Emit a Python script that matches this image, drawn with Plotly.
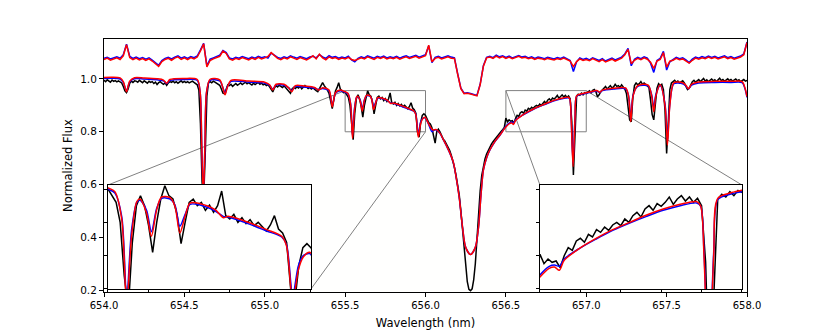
import numpy as np
import plotly.graph_objects as go

# observed spectrum, flux x1000, sampled every 0.01 nm from 654.00 nm
obs_start, obs_step = 654.0, 0.01
obs_flux = [
    995, 990, 997, 992, 988, 996, 991, 994, 989, 993,
    990, 985, 972, 955, 948, 962, 984, 992, 987, 993,
    992, 988, 995, 990, 986, 993, 989, 984, 991, 987,
    990, 983, 988, 979, 986, 990, 984, 980, 985, 976,
    985, 990, 987, 992, 986, 990, 984, 989, 993, 987,
    991, 986, 990, 985, 989, 992, 987, 984, 978, 958,
    830, 610, 545, 720, 935, 986, 990, 986, 992, 988,
    985, 980, 976, 962, 946, 944, 960, 978, 975, 980,
    972, 978, 983, 976, 980, 985, 979, 983, 988, 982,
    986, 981, 977, 984, 979, 983, 987, 980, 984, 978,
    981, 975, 979, 970, 958, 951, 966, 975, 970, 976,
    972, 968, 974, 966, 958, 950, 946, 962, 968, 964,
    970, 966, 972, 963, 968, 975, 970, 964, 968, 962,
    966, 960, 956, 952, 963, 972, 986, 975, 968, 958,
    945, 910, 888, 922, 955, 968, 986, 962, 955, 948,
    950, 940, 930, 900, 820, 770, 870, 925, 940, 925,
    895, 855, 900, 935, 955, 940, 935, 912, 868, 900,
    930, 935, 925, 930, 918, 926, 915, 925, 947, 910,
    905, 912, 900, 907, 898, 904, 895, 900, 893, 887,
    896, 910, 890, 884, 870, 800, 780, 835, 862, 868,
    862, 850, 835, 830, 815, 785, 757, 800, 810, 800,
    785, 772, 765, 754, 742, 730, 712, 690, 665, 635,
    600, 560, 500, 425, 350, 280, 232, 203, 198, 205,
    240, 300, 400, 500, 575, 635, 672, 697, 716, 730,
    740, 753, 762, 770, 781, 786, 794, 801, 808, 816,
    852, 838, 845, 840, 842, 832, 850, 862, 858, 872,
    876, 870, 882, 878, 889, 885, 893, 888, 896, 900,
    895, 905, 900, 910, 915, 908, 920, 925, 918, 928,
    924, 930, 938, 927, 935, 940, 932, 938, 930, 936,
    925, 840, 636, 800, 935, 942, 938, 946, 940, 948,
    945, 950, 955, 948, 957, 960, 952, 933, 940, 952,
    958, 965, 972, 962, 968, 975, 966, 970, 980, 972,
    975, 968, 978, 970, 962, 945, 900, 845, 838, 930,
    975, 985, 978, 982, 990, 980, 985, 978, 975, 968,
    920, 865, 845, 905, 965, 982, 975, 980, 960, 880,
    718, 830, 960, 985, 990, 995, 988, 992, 985, 990,
    993, 985, 975, 960, 965, 980, 990, 995, 988, 993,
    998, 990, 995, 1002, 992, 997, 990, 995, 1000, 993,
    997, 990, 996, 1003, 994, 998, 991, 997, 1001, 994,
    998, 992, 996, 1000, 993, 997, 990, 995, 998, 992,
    995,
]

# model fits
mod_wl = [654.00, 654.05, 654.10, 654.12, 654.14, 654.16, 654.19, 654.25, 654.33, 654.37,
          654.39, 654.41, 654.50, 654.58, 654.598, 654.608, 654.618, 654.628, 654.638, 654.66,
          654.72, 654.74, 654.753, 654.767, 654.79, 654.90, 655.00, 655.03, 655.05, 655.07,
          655.12, 655.15, 655.168, 655.19, 655.25, 655.31, 655.334, 655.36, 655.40, 655.42,
          655.44, 655.47, 655.503, 655.517, 655.534, 655.546, 655.558, 655.571, 655.579, 655.595,
          655.607, 655.620, 655.632, 655.653, 655.665, 655.677, 655.690, 655.702, 655.727, 655.764,
          655.784, 655.796, 655.850, 655.891, 655.928, 655.940, 655.955, 655.969, 655.981, 655.997,
          656.018, 656.040, 656.050, 656.065, 656.090, 656.110, 656.130, 656.150, 656.173, 656.190,
          656.210, 656.230, 656.250, 656.280, 656.310, 656.330, 656.345, 656.360, 656.380, 656.400,
          656.430, 656.463, 656.500, 656.523, 656.536, 656.548, 656.560, 656.598, 656.639, 656.680,
          656.722, 656.764, 656.805, 656.847, 656.888, 656.898, 656.906, 656.918, 656.930, 656.940,
          656.971, 657.000, 657.030, 657.065, 657.085, 657.100, 657.170, 657.245, 657.263, 657.277,
          657.291, 657.320, 657.385, 657.407, 657.420, 657.433, 657.460, 657.490, 657.505, 657.520,
          657.545, 657.600, 657.620, 657.636, 657.655, 657.700, 657.800, 657.900, 657.970, 657.988,
          658.000]
mod_red = [1.006, 1.007, 1.004, 0.990, 0.952, 0.992, 1.005, 1.004, 1.001, 0.996,
           0.984, 0.998, 1.002, 0.998, 0.950, 0.750, 0.550, 0.750, 0.950, 0.999,
           0.997, 0.965, 0.940, 0.968, 0.995, 0.992, 0.988, 0.978, 0.958, 0.980,
           0.980, 0.966, 0.952, 0.975, 0.973, 0.968, 0.958, 0.967, 0.958, 0.895,
           0.948, 0.958, 0.951, 0.946, 0.904, 0.775, 0.879, 0.931, 0.935, 0.914,
           0.879, 0.919, 0.938, 0.937, 0.924, 0.884, 0.909, 0.929, 0.928, 0.919,
           0.907, 0.909, 0.899, 0.889, 0.879, 0.864, 0.780, 0.829, 0.848, 0.855,
           0.832, 0.810, 0.807, 0.809, 0.795, 0.772, 0.748, 0.722, 0.685, 0.630,
           0.550, 0.440, 0.362, 0.335, 0.362, 0.440, 0.560, 0.655, 0.702, 0.731,
           0.762, 0.788, 0.818, 0.831, 0.833, 0.828, 0.843, 0.861, 0.876, 0.889,
           0.900, 0.911, 0.920, 0.927, 0.931, 0.924, 0.850, 0.668, 0.850, 0.936,
           0.944, 0.948, 0.952, 0.956, 0.950, 0.958, 0.965, 0.966, 0.935, 0.838,
           0.935, 0.975, 0.977, 0.935, 0.876, 0.935, 0.978, 0.900, 0.750, 0.900,
           0.986, 0.986, 0.976, 0.963, 0.980, 0.989, 0.991, 0.991, 0.990, 0.965,
           0.933]
mod_blue = [1.002, 1.003, 1.000, 0.987, 0.955, 0.989, 1.001, 1.000, 0.997, 0.993,
            0.983, 0.994, 0.998, 0.995, 0.950, 0.750, 0.550, 0.750, 0.950, 0.995,
            0.993, 0.967, 0.945, 0.970, 0.991, 0.988, 0.984, 0.976, 0.962, 0.977,
            0.976, 0.966, 0.956, 0.972, 0.969, 0.965, 0.960, 0.964, 0.955, 0.900,
            0.946, 0.955, 0.949, 0.944, 0.908, 0.785, 0.888, 0.930, 0.933, 0.918,
            0.886, 0.921, 0.936, 0.935, 0.926, 0.894, 0.912, 0.927, 0.926, 0.917,
            0.909, 0.908, 0.897, 0.887, 0.878, 0.866, 0.790, 0.835, 0.850, 0.853,
            0.830, 0.800, 0.805, 0.808, 0.794, 0.771, 0.747, 0.721, 0.684, 0.630,
            0.550, 0.440, 0.362, 0.335, 0.362, 0.440, 0.560, 0.655, 0.701, 0.730,
            0.761, 0.787, 0.821, 0.834, 0.836, 0.834, 0.845, 0.861, 0.875, 0.888,
            0.899, 0.909, 0.918, 0.925, 0.929, 0.924, 0.855, 0.680, 0.855, 0.934,
            0.942, 0.946, 0.950, 0.954, 0.949, 0.956, 0.962, 0.963, 0.938, 0.845,
            0.938, 0.972, 0.974, 0.940, 0.890, 0.940, 0.975, 0.905, 0.765, 0.905,
            0.982, 0.982, 0.973, 0.962, 0.977, 0.985, 0.987, 0.987, 0.986, 0.962,
            0.930]

# offset residual curves, x1000, every 0.02 nm from 654.00 nm
top_start, top_step = 654.0, 0.02
top_blue = [
    1078, 1082, 1076, 1081, 1084, 1079, 1092, 1132, 1086, 1078,
    1083, 1077, 1081, 1075, 1080, 1072, 1060, 1052, 1070, 1078,
    1082, 1076, 1083, 1088, 1079, 1084, 1078, 1085, 1081, 1087,
    1110, 1135, 1050, 1075, 1080, 1085, 1090, 1108, 1100, 1080,
    1076, 1082, 1079, 1085, 1080, 1077, 1083, 1079, 1086, 1081,
    1084, 1079, 1098, 1090, 1082, 1078, 1084, 1080, 1088, 1083,
    1079, 1085, 1081, 1077, 1083, 1086, 1080, 1092, 1084, 1078,
    1088, 1082, 1085, 1079, 1083, 1080, 1086, 1072, 1065, 1078,
    1084, 1080, 1088, 1083, 1079, 1086, 1082, 1087, 1080, 1084,
    1081, 1086, 1079, 1084, 1088, 1082, 1085, 1090, 1083, 1087,
    1092, 1125, 1062, 1082, 1086, 1080, 1084, 1088, 1083, 1080,
    1020, 965, 946, 948, 945, 940, 938, 980, 1050, 1082,
    1086, 1081, 1090, 1084, 1088, 1082, 1087, 1080, 1085, 1089,
    1083, 1086, 1080, 1084, 1078, 1083, 1081, 1077, 1082, 1079,
    1076, 1081, 1078, 1083, 1077, 1070, 1028, 1065, 1080, 1074,
    1078, 1072, 1080, 1075, 1070, 1077, 1068, 1074, 1079, 1072,
    1077, 1083, 1095, 1116, 1050, 1075, 1082, 1077, 1084, 1079,
    1060, 1025, 1070, 1078, 1105, 1034, 1065, 1075, 1082, 1077,
    1080, 1072, 1062, 1075, 1083, 1079, 1085, 1081, 1087, 1082,
    1086, 1080, 1084, 1088, 1081, 1085, 1079, 1083, 1087, 1095,
    1140,
]
top_red = [
    1074, 1079, 1071, 1077, 1080, 1074, 1088, 1130, 1081, 1073,
    1079, 1072, 1077, 1070, 1076, 1068, 1056, 1048, 1066, 1074,
    1078, 1071, 1079, 1084, 1074, 1080, 1073, 1081, 1076, 1083,
    1106, 1133, 1046, 1070, 1076, 1081, 1086, 1106, 1097, 1076,
    1071, 1078, 1074, 1081, 1075, 1072, 1079, 1074, 1082, 1076,
    1080, 1085, 1100, 1088, 1078, 1073, 1080, 1076, 1084, 1079,
    1074, 1081, 1076, 1072, 1079, 1088, 1076, 1094, 1080, 1073,
    1084, 1078, 1081, 1074, 1079, 1076, 1082, 1074, 1070, 1076,
    1080, 1076, 1084, 1079, 1074, 1082, 1078, 1083, 1076, 1080,
    1077, 1082, 1075, 1080, 1084, 1078, 1081, 1086, 1079, 1083,
    1088, 1128, 1065, 1078, 1082, 1076, 1080, 1084, 1079, 1078,
    1018, 963, 944, 946, 943, 938, 936, 978, 1048, 1080,
    1083, 1078, 1087, 1080, 1085, 1078, 1083, 1077, 1082, 1086,
    1080, 1082, 1077, 1080, 1074, 1079, 1077, 1073, 1078, 1075,
    1072, 1077, 1074, 1079, 1073, 1068, 1047, 1066, 1076, 1070,
    1074, 1069, 1077, 1071, 1066, 1073, 1065, 1070, 1075, 1068,
    1073, 1079, 1092, 1112, 1058, 1071, 1078, 1073, 1080, 1075,
    1064, 1040, 1068, 1074, 1100, 1045, 1068, 1071, 1078, 1073,
    1076, 1068, 1060, 1071, 1079, 1075, 1080, 1077, 1083, 1078,
    1082, 1076, 1080, 1084, 1077, 1081, 1075, 1079, 1083, 1092,
    1138,
]

obs_wl = np.round(obs_start + obs_step * np.arange(len(obs_flux)), 3)
top_wl = np.round(top_start + top_step * np.arange(len(top_blue)), 3)
obs_f = np.array(obs_flux) / 1000
topb = np.array(top_blue) / 1000
topr = np.array(top_red) / 1000

xr = [654.0, 658.0]
yr = [0.193, 1.1515]
zoom1 = [655.5, 656.0]
zoom2 = [656.5, 657.0]
zoom_y = [0.8, 0.956]
in1_dom = [0.0062, 0.3219]
in2_dom = [0.678, 0.9922]
in_ydom = [0.0119, 0.4229]

font = 'DejaVu Sans'
fig = go.Figure()

fig.add_trace(go.Scatter(x=top_wl, y=topb, mode='lines', line=dict(color='#0000ff', width=1.5)))
fig.add_trace(go.Scatter(x=top_wl, y=topr, mode='lines', line=dict(color='#ff0000', width=1.5)))

for xa, ya in [('x', 'y'), ('x2', 'y2'), ('x3', 'y3')]:
    fig.add_trace(go.Scatter(x=obs_wl, y=obs_f, xaxis=xa, yaxis=ya, mode='lines',
                             line=dict(color='black', width=1.5)))
    fig.add_trace(go.Scatter(x=mod_wl, y=mod_blue, xaxis=xa, yaxis=ya, mode='lines',
                             line=dict(color='#0000ff', width=1.5, shape='spline', smoothing=0.8)))
    fig.add_trace(go.Scatter(x=mod_wl, y=mod_red, xaxis=xa, yaxis=ya, mode='lines',
                             line=dict(color='#ff0000', width=1.5, shape='spline', smoothing=0.8)))

frame = dict(showline=True, mirror=True, linecolor='black', linewidth=1, showgrid=False,
             zeroline=False, ticks='outside', tickcolor='black', automargin=False)

def to_main(dx, dy):
    return xr[0] + dx * (xr[1] - xr[0]), yr[0] + dy * (yr[1] - yr[0])

gray = dict(color='#808080', width=1)
shapes = []
for zx in (zoom1, zoom2):
    shapes.append(dict(type='rect', xref='x', yref='y', x0=zx[0], x1=zx[1], y0=zoom_y[0], y1=zoom_y[1],
                       line=gray, layer='below'))
# inset 1: top-left and bottom-right corners
ax0, ay0 = to_main(in1_dom[0], in_ydom[1])
ax1, ay1 = to_main(in1_dom[1], in_ydom[0])
shapes.append(dict(type='line', xref='x', yref='y', x0=ax0, y0=ay0, x1=zoom1[0], y1=zoom_y[1], line=gray, layer='below'))
shapes.append(dict(type='line', xref='x', yref='y', x0=ax1, y0=ay1, x1=zoom1[1], y1=zoom_y[0], line=gray, layer='below'))
# inset 2: top-left and top-right corners
bx0, by0 = to_main(in2_dom[0], in_ydom[1])
bx1, by1 = to_main(in2_dom[1], in_ydom[1])
shapes.append(dict(type='line', xref='x', yref='y', x0=bx0, y0=by0, x1=zoom2[0], y1=zoom_y[1], line=gray, layer='below'))
shapes.append(dict(type='line', xref='x', yref='y', x0=bx1, y0=by1, x1=zoom2[1], y1=zoom_y[1], line=gray, layer='below'))

fig.update_layout(
    width=830, height=332, margin=dict(l=104, r=83, t=39, b=40, autoexpand=False),
    paper_bgcolor='white', plot_bgcolor='#fffffe', showlegend=False,
    font=dict(family=font, size=10, color='black'),
    xaxis=dict(frame, domain=[0, 1], range=xr, dtick=0.5, tick0=654, tickformat='.1f', ticklen=4,
               tickfont=dict(size=10),
               title=dict(text='Wavelength (nm)', standoff=8, font=dict(size=11.5))),
    yaxis=dict(frame, domain=[0, 1], range=yr, tickvals=[0.2, 0.4, 0.6, 0.8, 1.0], tickformat='.1f', ticklen=4,
               tickfont=dict(size=10.5),
               title=dict(text='Normalized Flux', standoff=5, font=dict(size=11.5))),
    xaxis2=dict(frame, domain=in1_dom, anchor='y2', range=zoom1, dtick=0.1, tick0=655.5,
                showticklabels=False, ticklen=3),
    yaxis2=dict(frame, domain=in_ydom, anchor='x2', range=zoom_y, dtick=0.05, tick0=0.8,
                showticklabels=False, ticklen=3),
    xaxis3=dict(frame, domain=in2_dom, anchor='y3', range=zoom2, dtick=0.1, tick0=656.5,
                showticklabels=False, ticklen=3),
    yaxis3=dict(frame, domain=in_ydom, anchor='x3', range=zoom_y, dtick=0.05, tick0=0.8,
                showticklabels=False, ticklen=3),
    shapes=shapes,
)

# the page body has a default 8px margin; drop it so the figure sits at the window origin
fig.write_html("out.html", config={'displayModeBar': False},
               post_script="document.body.style.margin='0';")
